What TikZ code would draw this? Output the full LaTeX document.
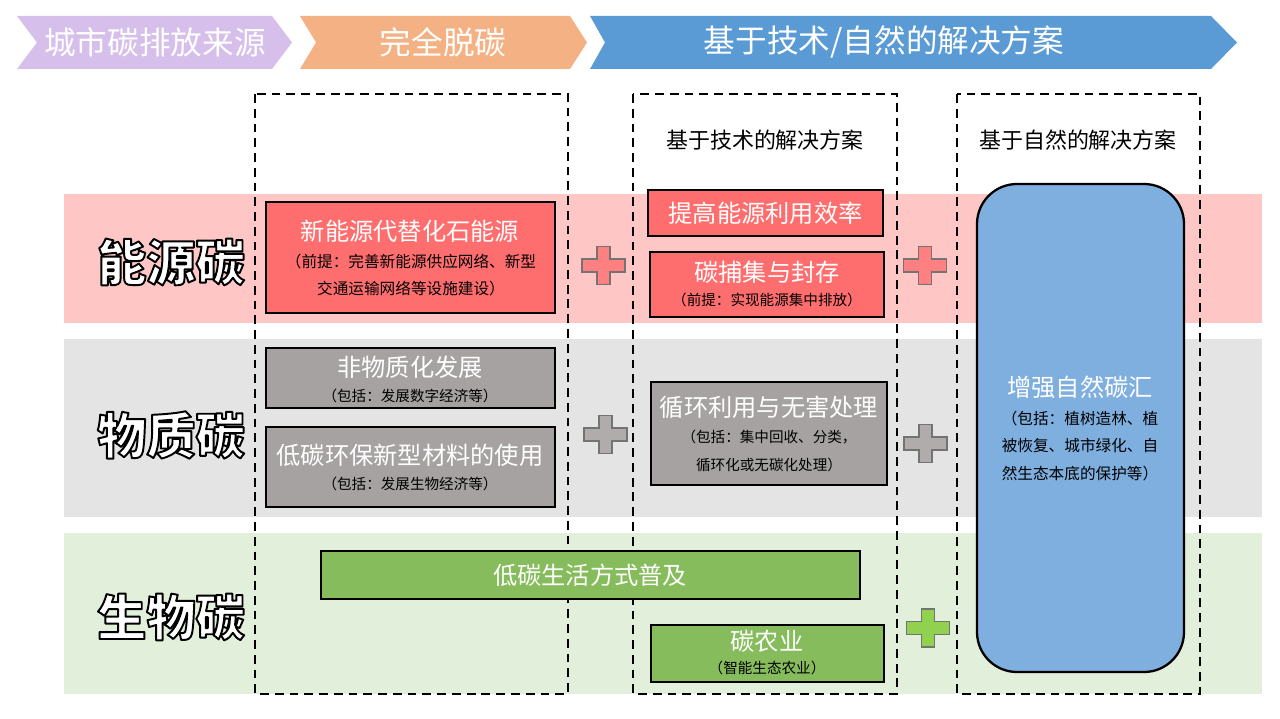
\documentclass[tikz,border=0pt]{standalone}
\usepackage{fontspec}
\setmainfont{Noto Sans CJK SC}
\usetikzlibrary{positioning}

\definecolor{chevpurple}{RGB}{214,191,234}
\definecolor{chevorange}{RGB}{244,177,131}
\definecolor{chevblue}{RGB}{91,155,213}
\definecolor{bandred}{RGB}{255,198,198}
\definecolor{bandgray}{RGB}{228,228,228}
\definecolor{bandgreen}{RGB}{226,239,218}
\definecolor{boxred}{RGB}{255,110,110}
\definecolor{boxgray}{RGB}{166,162,162}
\definecolor{boxgreen}{RGB}{134,188,91}
\definecolor{boxblue}{RGB}{127,175,223}
\definecolor{crossred}{RGB}{255,128,128}
\definecolor{crossgray}{RGB}{176,172,172}
\definecolor{crossgreen}{RGB}{146,208,80}

\newcommand\hollow[1]{\special{pdf:literal direct 2 Tr 1.1 w 1 j 0 G}#1\special{pdf:literal direct 0 Tr}}
\newcommand\crossat[3]{\draw[crossline,fill=#3,shift={(#1,#2)}] (-21.5,-6.5) -- (-6.5,-6.5) -- (-6.5,-19) -- (6.5,-19) -- (6.5,-6.5) -- (21.5,-6.5) -- (21.5,6.5) -- (6.5,6.5) -- (6.5,19) -- (-6.5,19) -- (-6.5,6.5) -- (-21.5,6.5) -- cycle;}

\tikzset{
  chevtext/.style={text=white,font=\fontsize{18}{20}\selectfont,inner sep=0pt},
  colhead/.style={font=\fontsize{12.5}{14}\selectfont,inner sep=0pt},
  rowlabel/.style={text=white,font=\bfseries\fontsize{28}{30}\selectfont,inner sep=0pt},
  zone/.style={draw=black,line width=1.2pt,dash pattern=on 5pt off 3.4pt},
  itembox/.style={draw=black,line width=1.3pt},
  title/.style={text=white,font=\fontsize{13.8}{16}\selectfont,inner sep=0pt},
  note/.style={font=\fontsize{8.3}{10}\selectfont,inner sep=0pt,align=center},
  bignote/.style={font=\fontsize{8.9}{15.4}\selectfont,inner sep=0pt,align=center},
  crossline/.style={draw=black!55,line width=0.6pt}
}

\begin{document}
\begin{tikzpicture}[x=0.02cm,y=-0.02cm]
\useasboundingbox (0,0) rectangle (1280,719);
\fill[white] (0,0) rectangle (1280,719);

\fill[chevpurple] (17,16) -- (272,16) -- (292,42.5) -- (272,69) -- (17,69) -- (37,42.5) -- cycle;
\fill[chevorange] (300,16) -- (570,16) -- (587,42.5) -- (570,69) -- (300,69) -- (316,42.5) -- cycle;
\fill[chevblue] (590,16) -- (1211,16) -- (1237,42.5) -- (1211,69) -- (590,69) -- (605,42.5) -- cycle;
\node[chevtext] (source) at (155,42) {城市碳排放来源};
\node[chevtext] (decarb) at (443,42) {完全脱碳};
\node[chevtext] (solution) at (884,42) {基于技术/自然的解决方案};

\fill[bandred] (64,194) rectangle (1262,323);
\fill[bandgray] (64,339) rectangle (1262,517);
\fill[bandgreen] (64,533) rectangle (1262,694);

\draw[zone] (255,94) rectangle (568,694);
\draw[zone] (633,94) rectangle (897,694);
\draw[zone] (957,94) rectangle (1200,694);
\node[colhead] (tech) at (765,140) {基于技术的解决方案};
\node[colhead] (nature) at (1078,140) {基于自然的解决方案};

\node[rowlabel] (energy) at (171,262) {\hollow{能源碳}};
\node[rowlabel] (matter) at (171,435) {\hollow{物质碳}};
\node[rowlabel] (bio) at (171,617) {\hollow{生物碳}};

\draw[itembox,fill=boxred] (266,202) rectangle (555,313);
\node[title] (renew) at (410,231) {新能源代替化石能源};
\node[bignote] (renewnote) at (411,275) {（前提：完善新能源供应网络、新型\\交通运输网络等设施建设）};
\draw[itembox,fill=boxred] (648,190) rectangle (883,236);
\node[title] (effic) at (765.5,213) {提高能源利用效率};
\draw[itembox,fill=boxred] (650,252) rectangle (884,317);
\node[title] (ccs) at (767,272) {碳捕集与封存};
\node[note] (ccsnote) at (767,300) {（前提：实现能源集中排放）};

\draw[itembox,fill=boxgray] (266,348) rectangle (555,408);
\node[title] (dematter) at (410,367) {非物质化发展};
\node[note] (dematternote) at (410,396) {（包括：发展数字经济等）};
\draw[itembox,fill=boxgray] (266,427) rectangle (555,507);
\node[title] (material) at (410,455) {低碳环保新型材料的使用};
\node[note] (materialnote) at (410,484) {（包括：发展生物经济等）};
\draw[itembox,fill=boxgray] (651,382) rectangle (887,485);
\node[title] (recycle) at (769,407) {循环利用与无害处理};
\node[note,font=\fontsize{8.3}{15.8}\selectfont] (recyclenote) at (769,451) {（包括：集中回收、分类，\\循环化或无碳化处理）};

\draw[itembox,fill=boxgreen] (321,551) rectangle (860,599);
\node[title] (lifestyle) at (590,575) {低碳生活方式普及};
\draw[itembox,fill=boxgreen] (651,625) rectangle (884,682);
\node[title] (agri) at (767,641) {碳农业};
\node[note] (agrinote) at (767,668) {（智能生态农业）};

\draw[itembox,fill=boxblue,rounded corners=0.8cm] (977,184) rectangle (1184,672);
\node[title] (sink) at (1080,387) {增强自然碳汇};
\node[bignote] (sinknote) at (1080,446) {（包括：植树造林、植\\被恢复、城市绿化、自\\然生态本底的保护等）};

\crossat{603.5}{265.5}{crossred}
\crossat{925}{265.5}{crossred}
\crossat{605.5}{434.5}{crossgray}
\crossat{925.5}{443.5}{crossgray}
\crossat{928}{628}{crossgreen}
\end{tikzpicture}
\end{document}
